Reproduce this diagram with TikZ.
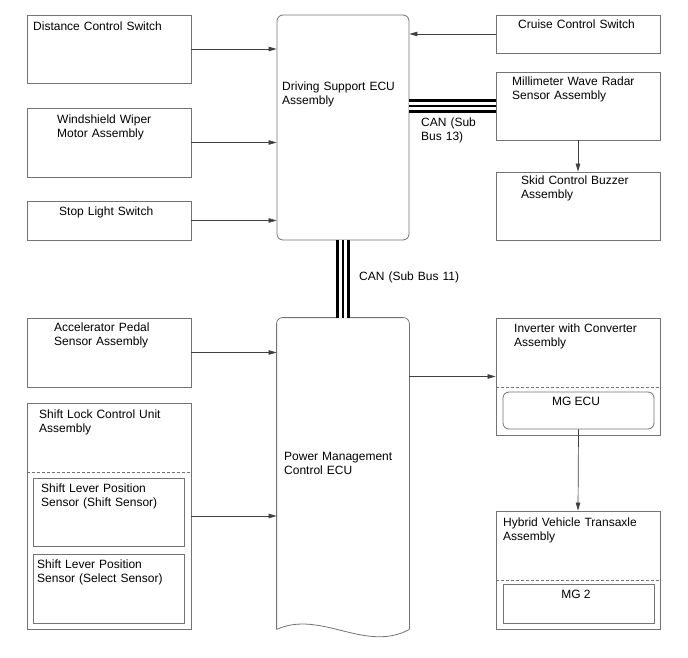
\documentclass[tikz,border=0pt]{standalone}
\usepackage{fontspec}
\setmainfont{Liberation Sans}
\usetikzlibrary{arrows.meta, positioning, calc}
\tikzset{
    unitBox/.style={
        draw=black!55, fill=white, line width=0.8pt, minimum width=164pt, inner sep=0pt
    },
    ecuBox/.style={
        unitBox, minimum width=132pt, rounded corners=6pt
    },
    subBox/.style={
        unitBox, minimum width=151pt
    },
    unitText/.style={
        anchor=north west, align=left, text width=165pt, inner sep=0pt, font=\fontsize{12}{14}\selectfont
    },
    centerText/.style={
        anchor=north, inner sep=0pt, font=\fontsize{12}{14}\selectfont
    },
    sigArrow/.style={
        -{Triangle[length=8pt, width=4.5pt]}, line width=0.7pt, draw=black!75
    },
    canBus/.style={
        line width=14.5pt, draw=black, postaction={draw=white, line width=7.5pt}, postaction={draw=black, line width=1.2pt}
    },
    divLine/.style={
        draw=black!55, line width=0.7pt, dash pattern=on 3pt off 2pt
    }
}

\begin{document}
\begin{tikzpicture}[x=1pt, y=-1pt]
    \useasboundingbox (0,0) rectangle (688,658);

    % ── LEFT COLUMN (inputs)
    \node[unitBox, minimum height=68pt] (dcs) at (109, 49) {};
    \node[unitBox, minimum height=69pt] (wwm) at (109, 142.5) {};
    \node[unitBox, minimum height=39pt] (sls) at (109, 220.5) {};
    \node[unitBox, minimum height=69pt] (aps) at (109, 352.5) {};
    \node[unitBox, minimum height=226pt] (slc) at (109, 516) {};
    \node[subBox, minimum height=68pt] (sss) at (108.5, 512) {};
    \node[subBox, minimum height=69pt] (sel) at (108.5, 588.5) {};
    \draw[divLine] (slc.west |- 0,472) -- (slc.east |- 0,472);

    \node[unitText] (dcsTxt) at (33, 22) {Distance Control Switch};
    \node[unitText] (wwmTxt) at (57, 115) {Windshield Wiper\\Motor Assembly};
    \node[unitText] (slsTxt) at (59, 207) {Stop Light Switch};
    \node[unitText] (apsTxt) at (54, 323) {Accelerator Pedal\\Sensor Assembly};
    \node[unitText] (slcTxt) at (39, 410) {Shift Lock Control Unit\\Assembly};
    \node[unitText] (sssTxt) at (41, 484) {Shift Lever Position\\Sensor (Shift Sensor)};
    \node[unitText] (selTxt) at (37, 560) {Shift Lever Position\\Sensor (Select Sensor)};

    % ── MIDDLE COLUMN (ECUs)
    \node[ecuBox, minimum height=225pt] (dse) at (343, 127.5) {};
    \node[ecuBox, draw=none, fill=none, minimum height=311pt] (pmc) at (343, 473.5) {};
    \draw[draw=black!55, line width=0.8pt, rounded corners=6pt] (pmc.south west) -- (pmc.north west) -- (pmc.north east) -- (pmc.south east);
    \draw[draw=black!55, line width=0.8pt] (pmc.south east) .. controls +(-44,24) and +(44,-20) .. (pmc.south west);

    \node[unitText] (dseTxt) at (282, 82) {Driving Support ECU\\Assembly};
    \node[unitText] (pmcTxt) at (284, 452) {Power Management\\Control ECU};

    % ── RIGHT COLUMN
    \node[unitBox, minimum height=38pt] (ccs) at (578, 34) {};
    \node[unitBox, minimum height=68pt] (mwr) at (578, 106) {};
    \node[unitBox, minimum height=68pt] (scb) at (578, 206) {};
    \node[unitBox, minimum height=117pt] (icv) at (578, 376.5) {};
    \node[subBox, rounded corners=6pt, minimum height=37pt] (mge) at (578.5, 410.5) {};
    \node[unitBox, minimum height=118pt] (hvt) at (578, 570) {};
    \node[subBox, minimum height=39pt] (mg2) at (578.5, 603.5) {};
    \draw[divLine] (icv.west |- 0,387) -- (icv.east |- 0,387);
    \draw[divLine] (hvt.west |- 0,580) -- (hvt.east |- 0,580);

    \node[unitText] (ccsTxt) at (518, 20) {Cruise Control Switch};
    \node[unitText] (mwrTxt) at (512, 77) {Millimeter Wave Radar\\Sensor Assembly};
    \node[unitText] (scbTxt) at (521, 176) {Skid Control Buzzer\\Assembly};
    \node[unitText] (icvTxt) at (514, 324) {Inverter with Converter\\Assembly};
    \node[centerText] (mgeTxt) at (576, 397) {MG ECU};
    \node[unitText] (hvtTxt) at (503, 518) {Hybrid Vehicle Transaxle\\Assembly};
    \node[centerText] (mg2Txt) at (576, 590) {MG 2};

    % ── CAN BUS LINES
    \draw[canBus] (mwr.west -| dse.east) -- (mwr.west);
    \draw[canBus] (dse.south) -- (pmc.north);
    \node[unitText] (can13) at (421, 118) {CAN (Sub\\Bus 13)};
    \node[unitText] (can11) at (359, 272) {CAN (Sub Bus 11)};

    % ── SIGNAL ARROWS
    \draw[sigArrow] (dcs.east) -- (dcs.east -| dse.west);
    \draw[sigArrow] (wwm.east) -- (wwm.east -| dse.west);
    \draw[sigArrow] (sls.east) -- (sls.east -| dse.west);
    \draw[sigArrow] (ccs.west) -- (ccs.west -| dse.east);
    \draw[sigArrow] (mwr.south) -- (scb.north);
    \draw[sigArrow] (aps.east) -- (aps.east -| pmc.west);
    \draw[sigArrow] (slc.east) -- (slc.east -| pmc.west);
    \draw[sigArrow] (icv.west -| pmc.east) -- (icv.west);
    \draw[sigArrow] (mge.south) -- (hvt.north);
\end{tikzpicture}
\end{document}
